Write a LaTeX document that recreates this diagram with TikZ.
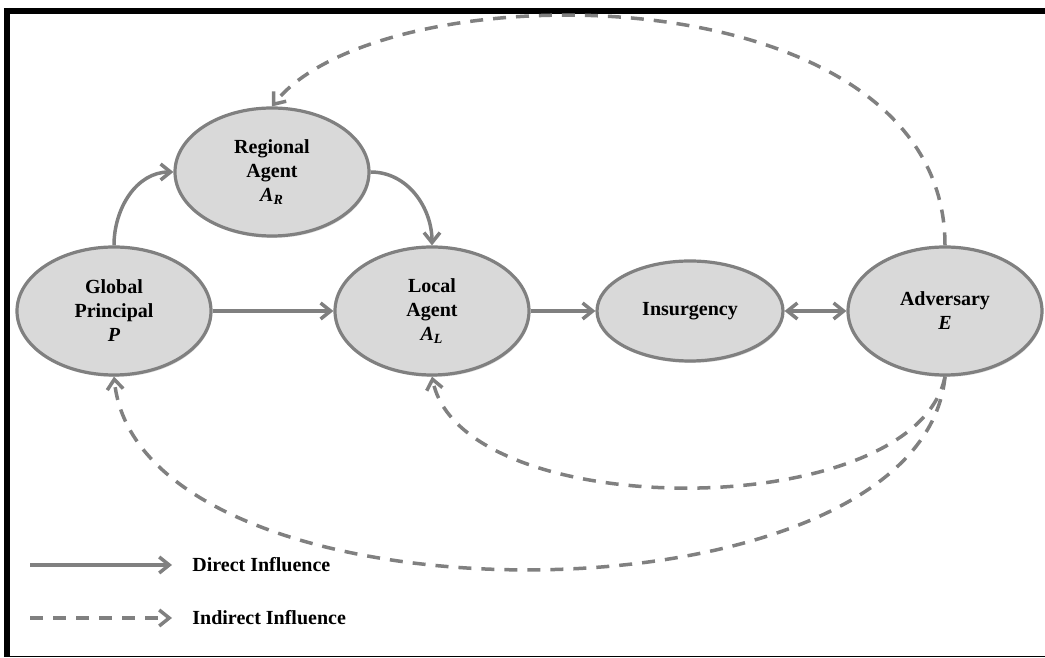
\documentclass[tikz,border=0pt]{standalone}
\usepackage{fontspec}
\setmainfont{Liberation Serif}
\usetikzlibrary{shapes.geometric,arrows.meta,shadows}

\definecolor{linegray}{RGB}{128,128,128}
\definecolor{nodegray}{RGB}{217,217,217}

\tikzstyle{actor}=[draw=linegray,fill=nodegray,ellipse,line width=1.6pt,minimum width=97pt,minimum height=64pt,inner sep=0pt,align=center,font=\bfseries,drop shadow={opacity=0.25,shadow xshift=0.5pt,shadow yshift=-1pt}]
\tikzstyle{direct}=[linegray,line width=1.75pt,-{Straight Barb[length=5pt,width=8pt]}]
\tikzstyle{both}=[linegray,line width=1.75pt,{Straight Barb[length=5pt,width=8pt]}-{Straight Barb[length=5pt,width=8pt]}]
\tikzstyle{indirect}=[direct,dash pattern=on 6.5pt off 5pt]

\begin{document}
\begin{tikzpicture}[x=50pt,y=50pt]
    \useasboundingbox (0,0) rectangle (10.45,6.58);
    % frame
    \draw[line width=3.25pt] (0.04,6.47) -- (10.45,6.47);
    \draw[line width=3pt] (0.07,6.50) -- (0.07,0.01);
    \draw[line width=0.65pt] (0.04,0.015) -- (10.45,0.015);
    % actors
    \node (P)[actor] at (1.14,3.47) {Global\\Principal\\\textit{P}};
    \node (AR)[actor] at (2.72,4.86) {Regional\\Agent\\\textit{A}\textsubscript{\textit{R}}};
    \node (AL)[actor] at (4.32,3.47) {Local\\Agent\\\textit{A}\textsubscript{\textit{L}}};
    \node (Ins)[actor,minimum width=93pt,minimum height=50pt] at (6.90,3.47) {Insurgency};
    \node (Adv)[actor] at (9.45,3.47) {Adversary\\\textit{E}};
    % direct influence
    \path[direct] (P.north) edge[out=90,in=180] (AR.west);
    \path[direct] (AR.east) edge[out=0,in=90] (AL.north);
    \path[direct] (P)   edge (AL);
    \path[direct] (AL)  edge (Ins);
    \path[both]   (Ins) edge (Adv);
    % indirect influence
    \draw[indirect] (Adv.north) .. controls +(0,2.77) and +(1.08,1.38) .. (AR.north);
    \draw[indirect] (Adv.south) .. controls +(-0.30,-1.48) and +(0.30,-1.48) .. (AL.south);
    \draw[indirect] (Adv.south) .. controls +(-0.25,-2.57) and +(0.25,-2.57) .. (P.south);
    % legend
    \coordinate (d1) at (0.30,0.93);
    \coordinate (d2) at (1.72,0.93);
    \coordinate (i1) at (0.30,0.40);
    \coordinate (i2) at (1.72,0.40);
    \path[direct] (d1) edge (d2);
    \path[indirect] (i1) edge (i2);
    \node (dtext)[anchor=west,inner sep=0pt,font=\bfseries] at (1.92,0.93) {Direct Influence};
    \node (itext)[anchor=west,inner sep=0pt,font=\bfseries] at (1.92,0.40) {Indirect Influence};
\end{tikzpicture}
\end{document}
